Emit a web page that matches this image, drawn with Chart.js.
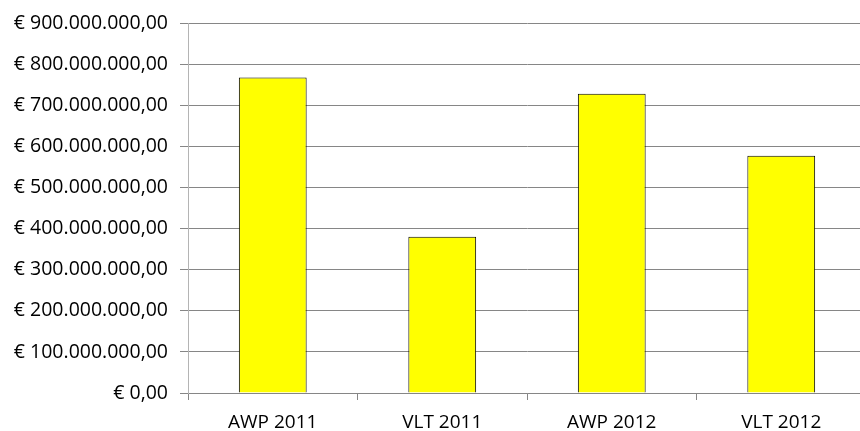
<!DOCTYPE html>
<html>
<head>
<meta charset="utf-8">
<script src="https://cdn.jsdelivr.net/npm/chart.js@4"></script>
<style>
  html, body { margin: 0; padding: 0; background: #fff; overflow: hidden; }
  #wrap { position: relative; width: 866px; height: 431px; }
</style>
</head>
<body>
<div id="wrap"><canvas id="revenueChart"></canvas></div>
<script>
const categories = ['AWP 2011', 'VLT 2011', 'AWP 2012', 'VLT 2012'];
const amounts = [769000000, 381000000, 729000000, 578000000];
const yTickLabels = ['€ 0,00', '€ 100.000.000,00', '€ 200.000.000,00', '€ 300.000.000,00',
    '€ 400.000.000,00', '€ 500.000.000,00', '€ 600.000.000,00', '€ 700.000.000,00',
    '€ 800.000.000,00', '€ 900.000.000,00'];

const gridGray = '#868686';
const tickFont = { family: '"Open Sans", sans-serif', size: 19.5 };

const ctx = document.getElementById('revenueChart').getContext('2d');
new Chart(ctx, {
    type: 'bar',
    data: {
        labels: categories,
        datasets: [{
            data: amounts,
            backgroundColor: '#ffff00',
            borderColor: '#000000',
            borderWidth: 1,
            barPercentage: 0.4,
            categoryPercentage: 1
        }]
    },
    options: {
        responsive: true,
        maintainAspectRatio: false,
        animation: false,
        layout: { padding: { top: 23, left: 0, right: 0, bottom: 0 } },
        plugins: { legend: { display: false }, tooltip: { enabled: false } },
        scales: {
            x: {
                grid: { drawOnChartArea: false, drawTicks: true, tickLength: 7, color: gridGray },
                border: { color: gridGray },
                ticks: { color: '#000', font: { family: tickFont.family, size: 19 }, padding: 11 },
                afterFit: s => { s.height = 38; }
            },
            y: {
                min: 0,
                max: 900000000,
                grid: { color: gridGray, tickLength: 8 },
                border: { color: '#b4b4b4' },
                ticks: {
                    stepSize: 100000000,
                    color: '#000',
                    font: tickFont,
                    padding: 12,
                    callback: (v, i) => yTickLabels[i]
                },
                afterFit: s => { s.width = 188; }
            }
        }
    }
});
</script>
</body>
</html>
